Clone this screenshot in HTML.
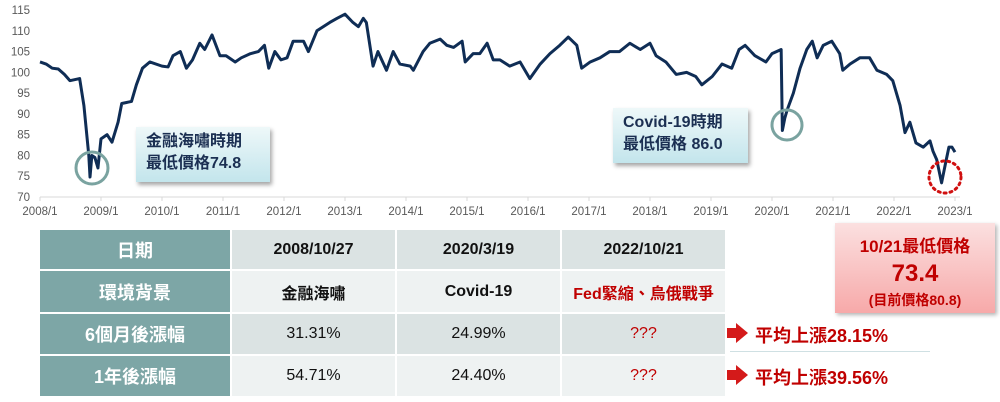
<!DOCTYPE html>
<html><head><meta charset="utf-8">
<style>
body{margin:0;background:#fff;}
#wrap{position:relative;width:1000px;height:402px;overflow:hidden;background:#fff;font-family:"Liberation Sans","Noto Sans CJK TC",sans-serif;}
svg{position:absolute;left:0;top:0;}
.callout{position:absolute;background:linear-gradient(#eef8f9,#c3e5ec);box-shadow:2px 3px 4px rgba(0,0,0,0.35);color:#1b2f52;font-weight:bold;font-size:16px;line-height:22px;padding:4px 0 0 10px;box-sizing:border-box;}
table{position:absolute;left:38px;top:228px;border-collapse:collapse;font-family:"Liberation Sans","Noto Sans CJK TC",sans-serif;}
td{border:2px solid #fff;text-align:center;font-size:16px;color:#111;padding:0;}
td.h{background:#7da6a6;color:#fff;font-weight:bold;font-size:18px;width:190px;}
td.c{width:163px;}
.r0 td.c{background:#dbe3e3;font-weight:bold;}
.r1 td.c{background:#eef2f2;font-weight:bold;}
.r2 td.c{background:#dbe3e3;}
.r3 td.c{background:#eef2f2;}
.red{color:#c00000 !important;}
#redbox{position:absolute;left:835px;top:223px;width:160px;height:90px;background:linear-gradient(#fbe0e0,#f7a9a9);box-shadow:2px 2px 4px rgba(0,0,0,0.3);color:#c00000;font-weight:bold;text-align:center;}
.avg{position:absolute;left:755px;color:#c00000;font-weight:bold;font-size:18px;}
</style></head><body>
<div id="wrap">
<svg id="chart" width="1000" height="402"></svg>
<div class="callout" style="left:136px;top:127px;width:134px;height:55px;">金融海嘯時期<br>最低價格74.8</div>
<div class="callout" style="left:613px;top:108px;width:135px;height:55px;">Covid-19時期<br>最低價格 86.0</div>
<table>
<tr class="r0" style="height:41px"><td class="h">日期</td><td class="c">2008/10/27</td><td class="c">2020/3/19</td><td class="c">2022/10/21</td></tr>
<tr class="r1" style="height:43px"><td class="h">環境背景</td><td class="c">金融海嘯</td><td class="c">Covid-19</td><td class="c red">Fed緊縮、烏俄戰爭</td></tr>
<tr class="r2" style="height:42px"><td class="h">6個月後漲幅</td><td class="c">31.31%</td><td class="c">24.99%</td><td class="c red">???</td></tr>
<tr class="r3" style="height:42px"><td class="h">1年後漲幅</td><td class="c">54.71%</td><td class="c">24.40%</td><td class="c red">???</td></tr>
</table>
<div id="redbox">
<div style="font-size:17px;margin-top:9px;">10/21最低價格</div>
<div style="font-size:24px;margin-top:3px;">73.4</div>
<div style="font-size:14px;margin-top:2px;">(目前價格80.8)</div>
</div>
<div class="avg" style="top:322px;">平均上漲28.15%</div>
<div class="avg" style="top:364px;">平均上漲39.56%</div>
<div style="position:absolute;left:730px;top:351px;width:200px;height:1px;background:#cfe0e3;"></div>
</div>
<script>
const dates=[2008.0,2008.1,2008.2,2008.3,2008.4,2008.49,2008.65,2008.72,2008.8,2008.82,2008.85,2008.9,2008.95,2009.0,2009.1,2009.18,2009.28,2009.34,2009.5,2009.58,2009.68,2009.8,2010.0,2010.1,2010.18,2010.3,2010.4,2010.5,2010.62,2010.7,2010.82,2010.95,2011.05,2011.2,2011.3,2011.45,2011.58,2011.68,2011.75,2011.85,2011.95,2012.05,2012.15,2012.32,2012.4,2012.54,2012.75,2012.87,2013.0,2013.13,2013.22,2013.3,2013.35,2013.46,2013.54,2013.68,2013.79,2013.9,2014.07,2014.12,2014.28,2014.39,2014.56,2014.67,2014.78,2014.92,2014.97,2015.1,2015.21,2015.33,2015.43,2015.54,2015.7,2015.87,2016.03,2016.2,2016.36,2016.52,2016.66,2016.8,2016.88,2017.02,2017.18,2017.34,2017.5,2017.67,2017.84,2018.0,2018.1,2018.26,2018.43,2018.6,2018.75,2018.85,2019.02,2019.18,2019.34,2019.46,2019.56,2019.72,2019.9,2020.0,2020.15,2020.17,2020.21,2020.25,2020.35,2020.46,2020.57,2020.66,2020.74,2020.84,2020.98,2021.11,2021.16,2021.28,2021.44,2021.6,2021.72,2021.88,2021.98,2022.1,2022.18,2022.26,2022.36,2022.48,2022.59,2022.64,2022.7,2022.78,2022.85,2022.9,2022.95,2023.0];
const values=[102.5,102,101,100.8,99.5,98,98.5,92,80,74.8,80,79.5,77,84,85,83.2,88,92.5,93,97,101,102.5,101.5,101.3,104,105,101,103,107,105.5,109,104,104,102.5,103.5,104.5,105,106.5,101,105,103,103.5,107.5,107.5,105,110,112,113,114,112,111,113,112,101.5,105,100.5,105,102,101.5,100.5,105,107,108,106.5,106,107.5,102.5,104.5,104.5,107,103,103,101.5,102.5,98.5,102,104.5,106.5,108.5,106.5,101,102.5,103.5,105,105,107,105.5,107,104,102.5,99.5,100,99,97,99,102,101,105.5,106.5,104,102.5,104.5,105.5,86,89,91,95,101,105.5,107.5,103.5,106.5,107.5,104.5,100.5,102,103.5,103.5,100.5,99.5,98,92,85.5,88,83,82,83.5,81,79,73.4,78.5,82,82,80.8];
const yTicks=[70,75,80,85,90,95,100,105,110,115];
const xTicks=[2008,2009,2010,2011,2012,2013,2014,2015,2016,2017,2018,2019,2020,2021,2022,2023];
const xLabels=["2008/1","2009/1","2010/1","2011/1","2012/1","2013/1","2014/1","2015/1","2016/1","2017/1","2018/1","2019/1","2020/1","2021/1","2022/1","2023/1"];
const NS="http://www.w3.org/2000/svg";
const svg=document.getElementById('chart');
const xs=d=>40+(d-2008)*61;
const ys=v=>197-(v-70)*4.155;
function mk(t,a){const e=document.createElementNS(NS,t);for(const k in a)e.setAttribute(k,a[k]);svg.appendChild(e);return e;}
const ax=mk('line',{x1:40,x2:960,y1:197,y2:197,stroke:'#d9d9d9','stroke-width':1});


yTicks.forEach(v=>{const t=mk('text',{x:30,y:ys(v)+4,'text-anchor':'end','font-size':11.5,fill:'#595959','font-family':'Liberation Sans'});t.textContent=v;

});
xTicks.forEach((d,i)=>{mk('line',{x1:xs(d),x2:xs(d),y1:197,y2:201,stroke:'#d9d9d9'});
const t=mk('text',{x:xs(d),y:215,'text-anchor':'middle','font-size':11.5,fill:'#595959','font-family':'Liberation Sans'});t.textContent=xLabels[i];

});
const p=mk('polyline',{points:dates.map((d,i)=>xs(d)+','+ys(values[i])).join(' '),fill:'none',stroke:'#0f2d55','stroke-width':3,'stroke-linejoin':'round'});


const c1=mk('circle',{cx:92,cy:168,r:16,fill:'none',stroke:'#7aa3a0','stroke-width':3});


const c2=mk('circle',{cx:787,cy:125,r:15,fill:'none',stroke:'#7aa3a0','stroke-width':3});


const c3=mk('circle',{cx:945,cy:177,r:16,fill:'none',stroke:'#d01010','stroke-width':3,'stroke-dasharray':'2 4','stroke-linecap':'round'});


[333,375].forEach(y=>{const a=mk('polygon',{points:`722,${y-5} 736,${y-5} 736,${y-10} 748,${y} 736,${y+10} 736,${y+5} 722,${y+5}`,fill:'#d41a1a'});

});
</script>
</body></html>
